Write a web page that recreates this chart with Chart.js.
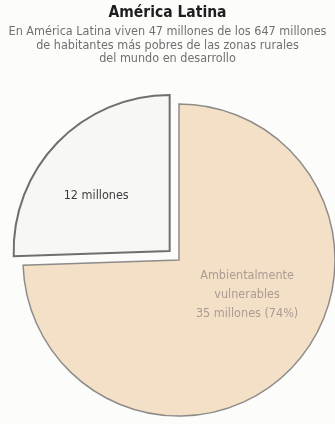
<!DOCTYPE html>
<html lang="es">
<head>
<meta charset="utf-8">
<title>América Latina</title>
<script src="https://cdn.jsdelivr.net/npm/chart.js@4.4.1/dist/chart.umd.min.js"></script>
<style>
  html, body { margin: 0; padding: 0; background: #fcfcfb; }
  #wrap { position: relative; width: 335px; height: 424px; overflow: hidden; }
  #head { position: absolute; left: 0; top: 0; width: 335px; text-align: center;
          font-family: "Liberation Sans Narrow", "DejaVu Sans Condensed", sans-serif; z-index: 2; }
  #head h1 { margin: 0; position: absolute; left: 0; width: 100%; top: 3px;
             font-size: 15.5px; line-height: 18px; font-weight: bold; color: #1e1e1e; }
  #head p { margin: 0; position: absolute; left: 0; width: 100%; top: 24px;
            font-size: 12.5px; line-height: 13.5px; color: #707070; }
  /* the pie canvas is a little larger than the page so the exploded slice keeps the full radius */
  canvas { position: absolute; left: -4px; top: 0; }
</style>
</head>
<body>
<div id="wrap">
  <div id="head">
    <h1 id="title"></h1>
    <p id="sub"></p>
  </div>
  <canvas id="chart" width="366" height="443"></canvas>
</div>
<script>
// Title and explanatory lines
const titleText = 'América Latina';
const subtitleLines = [
  'En América Latina viven 47 millones de los 647 millones',
  'de habitantes más pobres de las zonas rurales',
  'del mundo en desarrollo'
];

// Slices: rural poor population of Latin America, in millions
const categories = ['Ambientalmente vulnerables', 'Resto'];
const millions = [35, 12];
const sliceLabels = [
  ['Ambientalmente', 'vulnerables', '35 millones (74%)'],
  ['12 millones']
];

document.getElementById('title').textContent = titleText;
document.getElementById('sub').innerHTML = subtitleLines.join('<br>');

// Writes each slice's text inside it, placed relative to the slice's arc
const sliceText = {
  id: 'sliceText',
  afterDatasetsDraw(chart, args, opts) {
    const ctx = chart.ctx;
    const meta = chart.getDatasetMeta(0);
    meta.data.forEach((arc, i) => {
      const p = arc.getProps(['x', 'y', 'startAngle', 'endAngle', 'outerRadius'], true);
      const mid = (p.startAngle + p.endAngle) / 2;
      // Chart.js v4 shifts an arc by a quarter of its offset option
      const off = ((arc.options && arc.options.offset) || 0) / 4;
      const place = opts.place[i];
      const a = mid + place.shift * Math.PI / 180;
      const cx = p.x + Math.cos(mid) * off + Math.cos(a) * p.outerRadius * place.r;
      const cy = p.y + Math.sin(mid) * off + Math.sin(a) * p.outerRadius * place.r;
      const lines = sliceLabels[i];
      ctx.save();
      ctx.font = opts.font;
      ctx.fillStyle = opts.colors[i];
      ctx.textAlign = 'center';
      ctx.textBaseline = 'middle';
      const lh = opts.lineHeight;
      lines.forEach((t, k) => {
        ctx.fillText(t, cx, cy + (k - (lines.length - 1) / 2) * lh);
      });
      ctx.restore();
    });
  }
};

new Chart(document.getElementById('chart'), {
  type: 'pie',
  data: {
    labels: categories,
    datasets: [{
      data: millions,
      backgroundColor: ['#f4e0c7', '#f7f8f6'],
      borderColor: ['#8e8c8a', '#6f6f6f'],
      borderWidth: [1.5, 2],
      offset: [0, 52],
      borderJoinStyle: 'miter'
    }]
  },
  options: {
    responsive: false,
    animation: false,
    rotation: 0,
    layout: { padding: { top: 77, bottom: 0, left: 0, right: 0 } },
    plugins: {
      legend: { display: false },
      tooltip: { enabled: false },
      title: { display: false },
      sliceText: {
        font: '12.5px "Liberation Sans Narrow", "DejaVu Sans Condensed", sans-serif',
        lineHeight: 19,
        colors: ['#ab9b93', '#3c3c3c'],
        place: [ { shift: -17, r: 0.49 }, { shift: -7, r: 0.59 } ]
      }
    }
  },
  plugins: [sliceText]
});
</script>
</body>
</html>
